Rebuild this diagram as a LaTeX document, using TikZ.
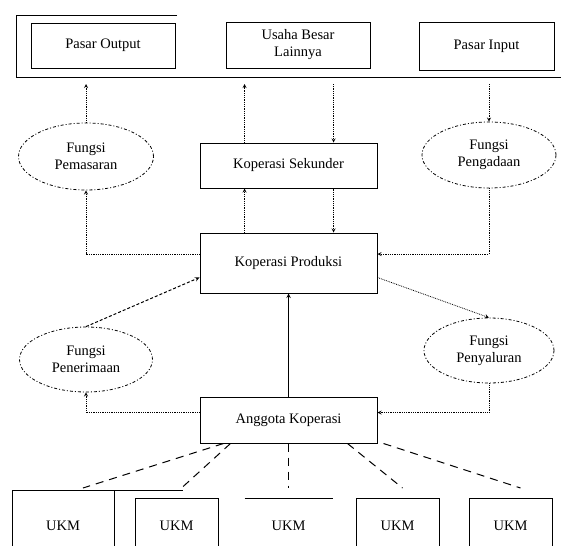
\documentclass[tikz,border=0pt]{standalone}
\usepackage{fontspec}
\setmainfont{Liberation Serif}
\usetikzlibrary{arrows,shapes.geometric}

\begin{document}
\begin{tikzpicture}[x=1pt,y=-1pt,>=stealth,font=\fontsize{14.5}{17}\selectfont,
  box/.style={draw,line width=1pt,minimum width=177pt,align=center,inner sep=2pt},
  fungsi/.style={ellipse,draw,line width=0.8pt,dash pattern=on 3pt off 2pt on 1pt off 2pt,align=center,inner sep=0pt},
  ukmbox/.style={draw,line width=1pt,minimum width=83pt,minimum height=54pt,anchor=north},
  dotarrow/.style={->,densely dotted,line width=0.8pt},
  ukmline/.style={dash pattern=on 8pt off 6pt,line width=1pt}]
  \useasboundingbox (0,0) rectangle (566,546);
  % top row
  \node[box,minimum width=144pt,minimum height=45pt] (pout) at (103,45.5) {Pasar Output};
  \node[box,minimum width=144pt,minimum height=46pt] (ubl) at (298,45) {Usaha Besar\\Lainnya};
  \node[box,minimum width=135pt,minimum height=48pt] (pin) at (486.5,46) {Pasar Input};
  \draw[line width=1pt] (177,15) -| (16,77) -- (561,77);
  \coordinate (base) at (0,84);
  % middle
  \node[fungsi,minimum width=135pt,minimum height=67pt] (fpem) at (86,156.5) {Fungsi\\Pemasaran};
  \node[fungsi,minimum width=134pt,minimum height=66pt] (fpeng) at (489,155) {Fungsi\\Pengadaan};
  \node[box,minimum height=45pt] (ks) at (288.5,165.5) {Koperasi Sekunder};
  \node[box,minimum height=60pt] (kp) at (288.5,263) {Koperasi Produksi};
  \node[fungsi,minimum width=133pt,minimum height=65pt] (fpen) at (86,359.5) {Fungsi\\Penerimaan};
  \node[fungsi,minimum width=130pt,minimum height=65pt] (fpy) at (489,350.5) {Fungsi\\Penyaluran};
  \node[box,minimum height=46pt] (ag) at (288.5,420) {Anggota Koperasi};
  % UKM
  \node[ukmbox,minimum width=102pt,minimum height=70pt] (u1) at (63,490) {UKM};
  \node[ukmbox] (u2) at (176.5,498) {UKM};
  \node[ukmbox,draw=none,minimum width=87pt] (u3) at (288.5,498) {UKM};
  \node[ukmbox] (u4) at (397.5,498) {UKM};
  \node[ukmbox] (u5) at (510.5,498) {UKM};
  \draw[line width=1pt] (u1.north east) -- ++(68,0);
  \draw[line width=1pt] (u3.north west) -- (u3.north east);
  % connectors
  \draw[dotarrow] (fpem.north) -- (fpem.north |- base);
  \draw[dotarrow] ([yshift=9pt]kp.west) -| (fpem.south);
  \draw[dotarrow] ([xshift=-44pt]ks.north) -- ([xshift=-44pt]ks.north |- base);
  \draw[dotarrow] ([xshift=45pt]ks.north |- base) -- ([xshift=45pt]ks.north);
  \draw[dotarrow] ([xshift=-44pt]kp.north) -- ([xshift=-44pt]ks.south);
  \draw[dotarrow] ([xshift=45pt]ks.south) -- ([xshift=45pt]kp.north);
  \draw[dotarrow] (fpeng.north |- base) -- (fpeng.north);
  \draw[dotarrow] (fpeng.south) |- ([yshift=9pt]kp.east);
  \draw[->,densely dashed,line width=1pt] (fpen.north) -- ([yshift=16pt]kp.south west);
  \draw[dotarrow] ([yshift=16pt]kp.south east) -- (fpy.north);
  \draw[->,line width=1pt] (ag.north) -- (kp.south);
  \draw[dotarrow] ([yshift=-16pt]ag.north west) -| (fpen.south);
  \draw[dotarrow] (fpy.south) |- ([yshift=-16pt]ag.north east);
  \draw[ukmline] ([xshift=24pt]ag.south west) -- ([xshift=20pt,yshift=2pt]u1.north);
  \draw[ukmline] ([xshift=31pt]ag.south west) -- ([xshift=5pt,yshift=10pt]u2.north);
  \draw[ukmline] (ag.south) -- ([yshift=10pt]u3.north);
  \draw[ukmline] ([xshift=-30pt]ag.south east) -- ([xshift=5pt,yshift=10pt]u4.north);
  \draw[ukmline] ([xshift=6pt]ag.south east) -- ([xshift=10pt,yshift=10pt]u5.north);
\end{tikzpicture}
\end{document}
